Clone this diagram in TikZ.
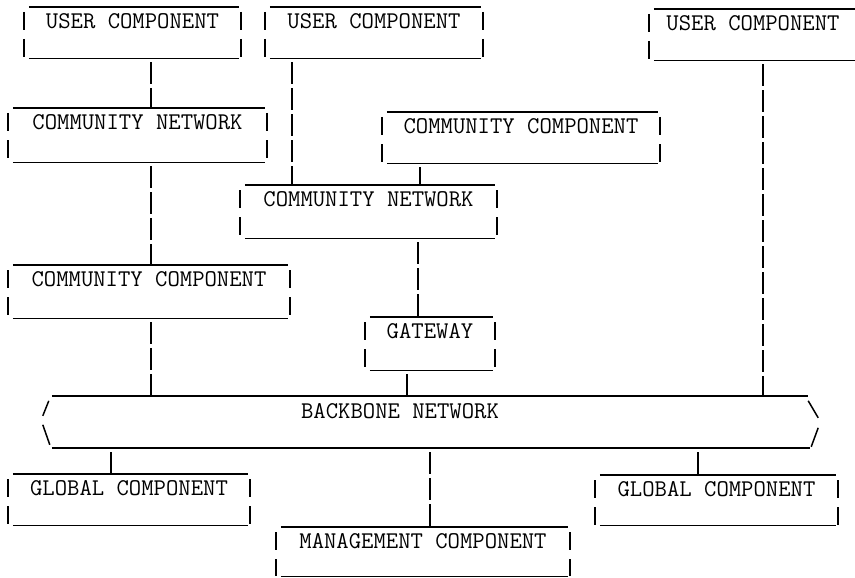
\documentclass[tikz,border=0pt]{standalone}
\usepackage{fontspec}
\usetikzlibrary{calc}
\begin{document}
\begin{tikzpicture}[x=1pt,y=-1pt,
  font={\ttfamily\fontsize{24}{24}\selectfont\addfontfeatures{FakeBold=0.6}},
  box/.style n args={2}{inner sep=0pt, anchor=north, minimum width=#1pt, text height=21pt, text depth=#2pt},
  hline/.style={line width=1.5pt},
  side/.style={line width=1.6pt, dash pattern=on 18pt off 9pt},
  slash/.style={line width=1.5pt},
  conn/.style={line width=1.6pt, dash pattern=on 22pt off 4pt, shorten <=4pt, shorten >=1pt}]
\useasboundingbox (0,0) rectangle (855,578);
\clip (0,0) rectangle (855,578);

% boxes
\node[box={217}{30}] (u1) at (132.5,7) {USER COMPONENT};
\node[box={218}{30}] (u2) at (374,7) {USER COMPONENT};
\node[box={208}{30}] (u3) at (753,9) {USER COMPONENT};
\node[box={259}{33}] (cn1) at (137.5,108) {COMMUNITY NETWORK};
\node[box={278}{30}] (cc2) at (521,112) {COMMUNITY COMPONENT};
\node[box={257}{32}] (cn2) at (368.5,185) {COMMUNITY NETWORK};
\node[box={282}{32}] (cc1) at (149,265) {COMMUNITY COMPONENT};
\node[box={130}{32}] (gw) at (430,317) {GATEWAY};
\node[box={242}{30}] (g1) at (129,474) {GLOBAL COMPONENT};
\node[box={294}{28}] (mg) at (423,527) {MANAGEMENT COMPONENT};
\node[box={243}{29}] (g2) at (716.5,475) {GLOBAL COMPONENT};

\foreach \n in {u1,u2,u3,cn1,cc2,cn2,cc1,gw,g1,mg,g2}{
  \draw[hline] ([xshift=5pt]\n.north west) -- ([xshift=-2pt]\n.north east);
  \draw[hline] ([xshift=5pt]\n.south west) -- ([xshift=-2pt]\n.south east);
  \draw[side] ([yshift=-5pt]\n.north west) -- (\n.south west);
  \draw[side] ([yshift=-5pt]\n.north east) -- (\n.south east);
}

% backbone
\node[inner sep=0pt, minimum width=777pt, minimum height=52pt] (bb) at (431.5,422) {};
\draw[hline] ([xshift=9pt]bb.north west) -- ([xshift=-12pt]bb.north east);
\draw[hline] ([xshift=9pt]bb.south west) -- ([xshift=-10pt]bb.south east);
\draw[slash] ([xshift=6pt,yshift=-5pt]bb.north west) -- ([yshift=-20pt]bb.north west);
\draw[slash] ([yshift=-29pt]bb.north west) -- ([xshift=7pt,yshift=-49pt]bb.north west);
\draw[slash] ([xshift=-12pt,yshift=-5pt]bb.north east) -- ([xshift=-2pt,yshift=-22pt]bb.north east);
\draw[slash] ([xshift=-2pt,yshift=-32pt]bb.north east) -- ([xshift=-9pt,yshift=-51pt]bb.north east);
\node[anchor=base, inner sep=0pt] (bbt) at (400,418) {BACKBONE NETWORK};

% connector x positions
\coordinate (xa) at (151,0);
\coordinate (xb) at (292,0);
\coordinate (xc) at (420,0);
\coordinate (xd) at (418,0);
\coordinate (xf) at (407,0);
\coordinate (xg) at (763,0);
\coordinate (xh) at (111,0);
\coordinate (xi) at (430,0);
\coordinate (xj) at (698,0);

\draw[conn] (u1.south -| xa) -- (cn1.north -| xa);
\draw[conn] (u2.south -| xb) -- (cn2.north -| xb);
\draw[conn] (cn1.south -| xa) -- (cc1.north -| xa);
\draw[conn] (cc2.south -| xc) -- (cn2.north -| xc);
\draw[conn] (cn2.south -| xd) -- (gw.north -| xd);
\draw[conn] (cc1.south -| xa) -- (bb.north -| xa);
\draw[conn] (gw.south -| xf) -- (bb.north -| xf);
\draw[conn] (u3.south -| xg) -- (bb.north -| xg);
\draw[conn] (bb.south -| xh) -- (g1.north -| xh);
\draw[conn] (bb.south -| xi) -- (mg.north -| xi);
\draw[conn] (bb.south -| xj) -- (g2.north -| xj);
\end{tikzpicture}
\end{document}
